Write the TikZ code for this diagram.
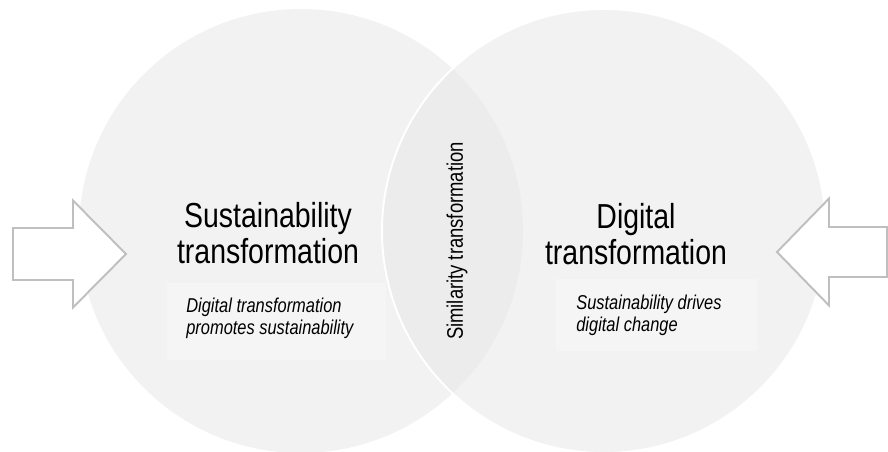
\documentclass[tikz,border=0pt]{standalone}
\usepackage{fontspec}
\setmainfont{Liberation Sans}[FakeStretch=0.82]
\usepackage{tikz}

\definecolor{circlegray}{HTML}{F2F2F2}
\definecolor{overlapgray}{HTML}{ECECEC}
\definecolor{boxgray}{HTML}{F5F5F5}
\definecolor{arrowgray}{HTML}{BFBFBF}

\begin{document}
\begin{tikzpicture}[title node/.style={align=center,font=\fontsize{19.75}{20.5}\selectfont},
                note node/.style={align=left,anchor=north west,inner sep=0pt,font=\fontsize{11.4}{12.5}\selectfont\itshape},
                block arrow/.style={draw=arrowgray,line width=1.1pt,fill=white,line join=miter}]

            \useasboundingbox (0,0) rectangle (17.76,9.02);

            \coordinate (SC) at (6.02,4.40);
            \coordinate (DC) at (12.08,4.40);

            \fill[circlegray] (SC) circle (4.44);
            \fill[circlegray] (DC) circle (4.44);
            \begin{scope}
                \clip (SC) circle (4.44);
                \fill[overlapgray] (DC) circle (4.44);
            \end{scope}
            \draw[white, line width=1.1pt] (DC) circle (4.44);

            \fill[boxgray] (3.34,1.82) rectangle (7.72,3.36);
            \fill[boxgray] (11.12,2.00) rectangle (15.14,3.44);

            \draw[block arrow] (0.26,3.42) -- (1.46,3.42) -- (1.46,2.87) -- (2.52,3.94)
                -- (1.46,5.01) -- (1.46,4.46) -- (0.26,4.46) -- cycle;
            \draw[block arrow] (17.74,3.48) -- (16.58,3.48) -- (16.58,2.91) -- (15.54,3.98)
                -- (16.58,5.05) -- (16.58,4.48) -- (17.74,4.48) -- cycle;

            \node[title node] (ST) at (5.36,4.35) {Sustainability\\transformation};
            \node[title node] (DT) at (12.72,4.34) {Digital\\transformation};
            \node[note node] (SN) at (3.72,3.07) {Digital transformation\\promotes sustainability};
            \node[note node] (DN) at (11.52,3.13) {Sustainability drives\\digital change};
            \node[rotate=90, font=\fontsize{12.8}{14}\selectfont] (SIM) at (9.14,4.20) {Similarity transformation};

        \end{tikzpicture}
\end{document}
